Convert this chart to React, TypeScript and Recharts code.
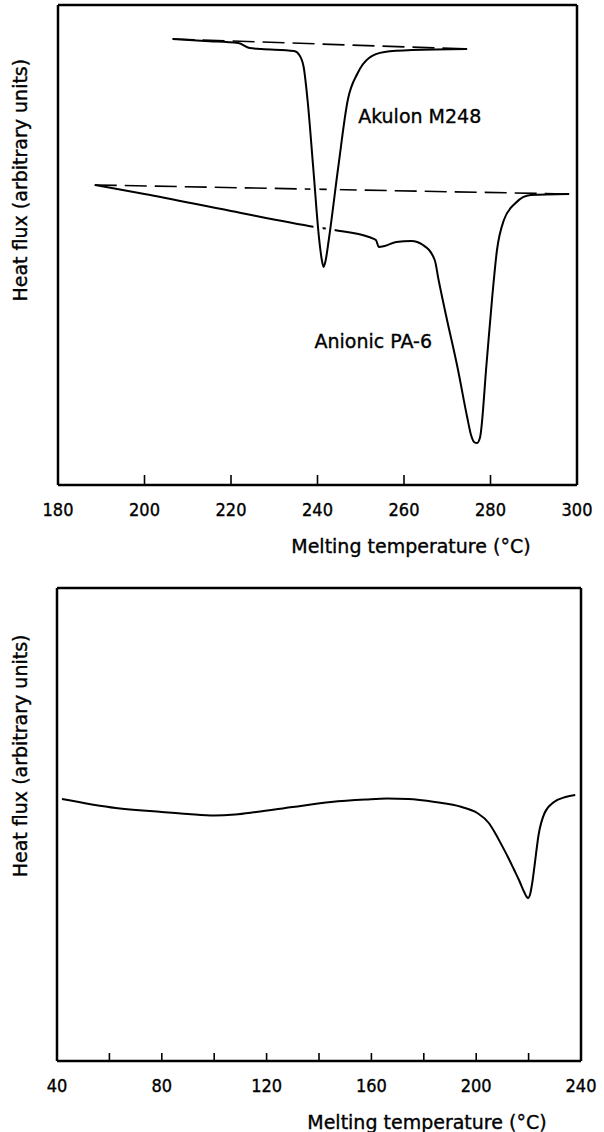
import React from 'react';
import { LineChart, Line, XAxis, YAxis, ReferenceDot } from 'recharts';

const FONT = "'DejaVu Sans', sans-serif";
const TICK_FONT = "'DejaVu Sans Condensed', 'DejaVu Sans', sans-serif";

// ---------- Top chart: PA-6 melting endotherms ----------
const topTicks = [180, 200, 220, 240, 260, 280, 300];

const akulonTemp = [206.5, 214, 221.7, 224.3, 227, 234.6, 235.8, 236.8, 237.7, 239.0, 240.4, 241.0, 241.4, 241.9, 242.6, 244.8, 247.0, 249.3, 251.9, 255.5, 262, 274.6];
const akulonFlux = [446, 444, 442, 437, 436, 434, 430, 418, 385, 318, 245, 225, 218, 225, 245, 318, 385, 412, 427, 433, 435, 436];

const akulonBaseTemp = [206.5, 274.6];
const akulonBaseFlux = [446, 436];

const pa6Temp = [188.5, 200, 220, 239.5, 243.9, 251.9, 253.5, 254.2, 255.5, 258.2, 261.7, 264.4, 267.1, 268.0, 269.7, 272.4, 274.6, 275.5, 276.2, 276.9, 277.6, 279.1, 280.4, 281.5, 283.1, 285.8, 289.3, 298.2];
const pa6Flux = [300, 291, 274, 258, 255, 248, 245, 238, 239, 243, 244, 240, 225, 205, 170, 117, 68, 50, 43, 42, 48, 122, 188, 235, 265, 282, 290, 291];

const pa6BaseTemp = [188.5, 298.2];
const pa6BaseFlux = [300, 291];

// ---------- Bottom chart ----------
const bottomTicks = [40, 60, 80, 100, 120, 140, 160, 180, 200, 220, 240];

const sampleTemp = [41.9, 62.4, 80, 90, 100, 108, 116, 130, 144.6, 157.8, 166, 174, 184.2, 194.5, 200.4, 204.8, 207, 209.5, 212.1, 214.5, 216.5, 218.3, 219.3, 219.8, 220.5, 221.5, 222.4, 223.8, 226.1, 229.7, 234.1, 237.8];
const sampleFlux = [262, 253, 249, 247, 245.5, 246.5, 249, 254, 259, 261.5, 262.5, 262, 259, 254, 248, 238, 229, 217, 204, 191, 180, 169, 164, 163, 166, 180, 198, 226, 248, 259, 264, 266];

const zip = (ts: number[], vs: number[]) => ts.map((t, i) => ({ t, v: vs[i] }));

const akulonData = zip(akulonTemp, akulonFlux);
const akulonPeakData = akulonData.filter((d) => d.t >= 236 && d.t <= 247.5);
const akulonBase = zip(akulonBaseTemp, akulonBaseFlux);
const pa6Data = zip(pa6Temp, pa6Flux);
const pa6Base = zip(pa6BaseTemp, pa6BaseFlux);
const sampleData = zip(sampleTemp, sampleFlux);

const axisLine = { stroke: '#000', strokeWidth: 2.5 };
const TEXT_STROKE = 0.35;

const makeTick = (len: number, labelEvery: number) => (props: any) => {
  const { x, y, payload } = props;
  const v = payload.value as number;
  return (
    <g>
      <line x1={x} y1={y} x2={x} y2={y - len} stroke="#000" strokeWidth={1.6} />
      {v % labelEvery === 0 ? (
        <text x={x} y={y + 31} textAnchor="middle" fontFamily={TICK_FONT} fontSize={18} fill="#000"
          stroke="#000" strokeWidth={TEXT_STROKE}>
          {String(v)}
        </text>
      ) : null}
    </g>
  );
};

const xTitle = (text: string, frac: number) => (props: any) => {
  const vb = props.viewBox;
  return (
    <text x={vb.x + vb.width * frac} y={vb.y + 61} textAnchor="middle" dominantBaseline="central"
      fontFamily={FONT} fontSize={19} fill="#000" stroke="#000" strokeWidth={TEXT_STROKE}>{text}</text>
  );
};

const yTitle = (text: string, frac: number) => (props: any) => {
  const vb = props.viewBox;
  const x = 20;
  const y = vb.y + vb.height * frac;
  return (
    <text x={x} y={y} transform={`rotate(-90 ${x} ${y})`} textAnchor="middle" dominantBaseline="central"
      fontFamily={FONT} fontSize={19} fill="#000" stroke="#000" strokeWidth={TEXT_STROKE}>{text}</text>
  );
};

const curveLabel = (text: string) => (props: any) => {
  const vb = props.viewBox;
  return (
    <text x={vb.x} y={vb.y} textAnchor="start" dominantBaseline="central"
      fontFamily={FONT} fontSize={19} fill="#000" stroke="#000" strokeWidth={TEXT_STROKE}>{text}</text>
  );
};

function TopChart() {
  return (
    <LineChart width={604} height={570} margin={{ top: 4, right: 26, bottom: 0, left: 57 }}>
      <XAxis xAxisId="b" type="number" dataKey="t" domain={[180, 300]} ticks={topTicks} height={85}
        tickSize={0} tickMargin={0} axisLine={axisLine} tickLine={false}
        tick={makeTick(10, 20)} allowDataOverflow label={xTitle('Melting temperature (°C)', 0.68)} />
      <XAxis xAxisId="t" orientation="top" type="number" dataKey="t" domain={[180, 300]} height={1}
        tick={false} tickLine={false} axisLine={axisLine} />
      <YAxis yAxisId="l" type="number" domain={[0, 480]} width={1} tick={false} tickLine={false}
        axisLine={axisLine} allowDataOverflow label={yTitle('Heat flux (arbitrary units)', 0.365)} />
      <YAxis yAxisId="r" orientation="right" type="number" domain={[0, 480]} width={1} tick={false}
        tickLine={false} axisLine={axisLine} />
      <Line xAxisId="b" yAxisId="l" data={akulonBase} dataKey="v" stroke="#000" strokeWidth={1.6}
        strokeDasharray="22 8" dot={false} isAnimationActive={false} />
      <Line xAxisId="b" yAxisId="l" data={pa6Base} dataKey="v" stroke="#000" strokeWidth={1.6}
        strokeDasharray="22 8" dot={false} isAnimationActive={false} />
      <Line xAxisId="b" yAxisId="l" data={pa6Data} dataKey="v" type="monotone" stroke="#000"
        strokeWidth={2} dot={false} isAnimationActive={false} />
      <Line xAxisId="b" yAxisId="l" data={akulonPeakData} dataKey="v" type="monotone" stroke="#fff"
        strokeWidth={9} dot={false} isAnimationActive={false} />
      <Line xAxisId="b" yAxisId="l" data={akulonData} dataKey="v" type="monotone" stroke="#000"
        strokeWidth={2} dot={false} isAnimationActive={false} />
      <ReferenceDot xAxisId="b" yAxisId="l" x={249.4} y={369} r={0} fill="none" stroke="none"
        label={curveLabel('Akulon M248')} />
      <ReferenceDot xAxisId="b" yAxisId="l" x={239.3} y={144} r={0} fill="none" stroke="none"
        label={curveLabel('Anionic PA-6')} />
    </LineChart>
  );
}

function BottomChart() {
  return (
    <LineChart width={604} height={549} margin={{ top: 4, right: 22, bottom: 0, left: 56 }}>
      <XAxis xAxisId="b" type="number" dataKey="t" domain={[40, 240]} ticks={bottomTicks} height={71}
        tickSize={0} tickMargin={0} axisLine={axisLine} tickLine={false}
        tick={makeTick(8, 40)} allowDataOverflow label={xTitle('Melting temperature (°C)', 0.706)} />
      <XAxis xAxisId="t" orientation="top" type="number" dataKey="t" domain={[40, 240]} height={1}
        tick={false} tickLine={false} axisLine={axisLine} />
      <YAxis yAxisId="l" type="number" domain={[0, 473]} width={1} tick={false} tickLine={false}
        axisLine={axisLine} allowDataOverflow label={yTitle('Heat flux (arbitrary units)', 0.355)} />
      <YAxis yAxisId="r" orientation="right" type="number" domain={[0, 473]} width={1} tick={false}
        tickLine={false} axisLine={axisLine} />
      <Line xAxisId="b" yAxisId="l" data={sampleData} dataKey="v" type="monotone" stroke="#000"
        strokeWidth={2} dot={false} isAnimationActive={false} />
    </LineChart>
  );
}

export default function App() {
  return (
    <div style={{ position: 'absolute', left: 0, top: 0, width: 604, height: 1132, overflow: 'hidden', background: '#fff' }}>
      <div style={{ position: 'absolute', left: 0, top: 0 }}>
        <TopChart />
      </div>
      <div style={{ position: 'absolute', left: 0, top: 583 }}>
        <BottomChart />
      </div>
    </div>
  );
}
